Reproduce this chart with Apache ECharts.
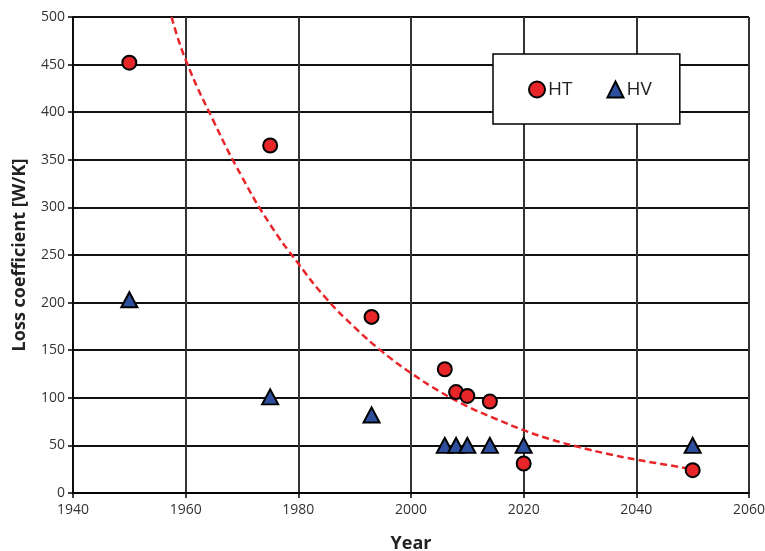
<!DOCTYPE html>
<html>
<head>
<meta charset="utf-8">
<script src="https://cdn.jsdelivr.net/npm/echarts@6/dist/echarts.min.js"></script>
<style>
  html, body { margin: 0; padding: 0; background: #fff; }
  #chart { width: 765px; height: 551px; }
</style>
</head>
<body>
<div id="chart"></div>
<script>
// values
const htYears = [1950, 1975, 1993, 2006, 2008, 2010, 2014, 2020, 2050];
const htValues = [452, 365, 185, 130, 106, 102, 96, 31, 24];
const hvYears = [1950, 1975, 1993, 2006, 2008, 2010, 2014, 2020, 2050];
const hvValues = [203, 101, 82, 50, 50, 50, 50, 50, 50];
// dashed trend curve
const trendYears = [1957.5, 1960, 1965, 1970, 1975, 1980, 1985, 1990, 1995, 2000, 2005, 2010, 2015, 2020, 2025, 2030, 2035, 2040, 2045, 2050];
const trendValues = [500, 455, 390, 332, 282, 241, 204, 174, 148, 126, 107, 91, 78, 66, 56, 48, 41, 35, 30, 25];

const font = "'Open Sans', 'Noto Sans', sans-serif";
const chart = echarts.init(document.getElementById('chart'));

const pair = (xs, ys) => xs.map((x, i) => [x, ys[i]]);

chart.setOption({
  animation: false,
  textStyle: { fontFamily: font },
  grid: { left: 73, right: 16, top: 17, bottom: 58, containLabel: false, outerBoundsMode: 'none' },
  legend: {
    left: 493, top: 54,
    width: 187,
    padding: [26, 28, 25, 35],
    itemGap: 34,
    itemWidth: 16, itemHeight: 16,
    borderColor: '#000', borderWidth: 1.5,
    backgroundColor: '#fff',
    textStyle: { fontSize: 19, color: '#222', fontFamily: font, padding: [0, 0, 0, -2] },
    data: ['HT', 'HV']
  },
  xAxis: {
    type: 'value', min: 1940, max: 2060, interval: 20,
    name: 'Year', nameLocation: 'middle', nameGap: 42,
    nameTextStyle: { fontSize: 18, fontWeight: 'bold', color: '#222' },
    axisLine: { lineStyle: { color: '#000', width: 1.5 } },
    axisTick: { show: true, length: 5, lineStyle: { color: '#000', width: 1.5 } },
    axisLabel: { fontSize: 14, color: '#333', margin: 10, formatter: v => String(v) },
    splitLine: { lineStyle: { color: '#333', width: 2 } }
  },
  yAxis: {
    type: 'value', min: 0, max: 500, interval: 50,
    name: 'Loss coefficient [W/K]', nameLocation: 'middle', nameGap: 44,
    nameTextStyle: { fontSize: 18, fontWeight: 'bold', color: '#222' },
    axisLine: { show: true, lineStyle: { color: '#000', width: 1.5 } },
    axisTick: { show: true, length: 5, lineStyle: { color: '#000', width: 1.5 } },
    axisLabel: { fontSize: 14, color: '#333', margin: 8 },
    splitLine: { lineStyle: { color: '#111', width: 2 } }
  },
  series: [
    {
      name: 'trend', type: 'line', smooth: true, symbol: 'none',
      data: pair(trendYears, trendValues),
      lineStyle: { color: '#e8262a', width: 2.5, type: [7, 4] },
      z: 2
    },
    {
      name: 'HT', type: 'scatter', symbol: 'circle', symbolSize: 14,
      data: pair(htYears, htValues),
      itemStyle: { color: '#e8262a', borderColor: '#000', borderWidth: 2, opacity: 1 },
      z: 3
    },
    {
      name: 'HV', type: 'scatter', symbol: 'triangle', symbolSize: [16, 15],
      data: pair(hvYears, hvValues),
      itemStyle: { color: '#2e4f9e', borderColor: '#000', borderWidth: 2, opacity: 1 },
      z: 3
    }
  ]
});
</script>
</body>
</html>
